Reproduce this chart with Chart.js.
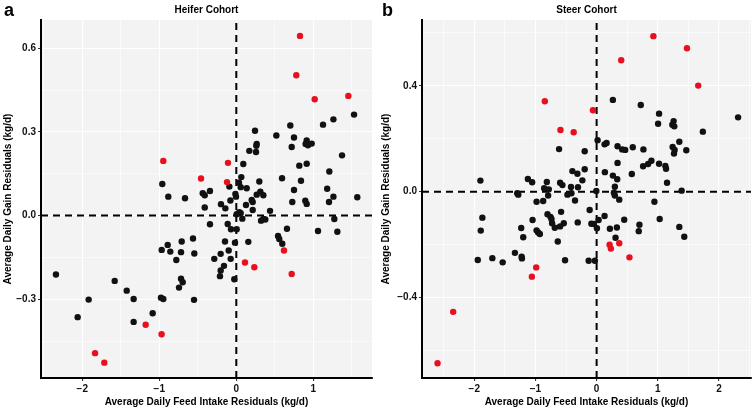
<!DOCTYPE html>
<html><head><meta charset="utf-8">
<script src="https://cdn.jsdelivr.net/npm/chart.js@4.4.1/dist/chart.umd.min.js"></script>
<style>
html,body{margin:0;padding:0;background:#fff;}
#wrap{position:relative;width:755px;height:409px;overflow:hidden;}
canvas{position:absolute;top:0;}
#ca{left:0;} #cb{left:378px;}
</style></head><body>
<div id="wrap"><canvas id="ca" width="378" height="409"></canvas><canvas id="cb" width="377" height="409"></canvas></div>
<script>
// ---------- Heifer cohort (panel a) ----------
const heiferBlackX = [1.529,1.261,1.126,0.701,0.243,0.52,0.749,0.719,0.265,0.26,0.169,0.256,0.914,0.9,0.93,0.979,1.373,0.091,0.818,0.914,1.208,0.065,0.035,-0.09,0.057,0.135,0.299,0.594,0.84,0.749,1.18,-0.342,-0.961,
 -0.883,-0.666,-0.436,-0.41,-0.41,-0.342,-0.562,-0.709,-0.891,-0.969,-0.857,-0.718,-0.545,-0.779,-2.342,-1.579,-0.718,-0.696,-0.744,-1.423,-1.917,-1.333,-0.978,-0.948,-0.549,-2.06,-1.086,-1.333,
 -0.199,-0.142,-0.077,-0.012,-0.004,0.126,0.2,0.213,0.213,0.265,0.312,0.351,0.438,0.005,0.039,0.057,0.078,0.321,0.351,0.377,-0.112,-0.069,0.005,0.727,0.896,0.914,1.261,1.204,1.571,1.273,0.658,1.061,1.312,0.542,0.558,0.597,0.156,-0.147,-0.017,-0.099,-0.203,-0.286,-0.073,-0.16,-0.203,-0.212,-0.026];
const heiferBlackY = [0.362,0.345,0.326,0.323,0.304,0.287,0.280,0.246,0.257,0.250,0.232,0.228,0.269,0.257,0.252,0.258,0.216,0.185,0.179,0.186,0.158,0.138,0.118,0.104,0.102,0.098,0.122,0.134,0.125,0.092,0.096,0.088,0.113,
 0.068,0.062,0.080,0.073,0.029,-0.031,-0.082,-0.093,-0.105,-0.123,-0.129,-0.131,-0.136,-0.159,-0.211,-0.234,-0.226,-0.239,-0.258,-0.269,-0.301,-0.299,-0.294,-0.299,-0.302,-0.364,-0.350,-0.381,
 0.041,0.026,0.054,0.078,0.068,0.038,0.056,0.049,0.020,0.075,0.086,0.073,0.017,0.005,0.012,0.009,-0.011,-0.018,-0.012,-0.014,-0.030,-0.049,-0.049,0.049,0.053,0.042,0.068,0.049,0.066,-0.012,-0.047,-0.055,-0.058,-0.073,-0.084,-0.101,-0.094,-0.093,-0.097,-0.125,-0.137,-0.155,-0.155,-0.180,-0.197,-0.217,-0.228];
const heiferRedX = [0.827,0.779,1.018,1.455,-0.108,-0.458,-0.121,-0.948,-1.177,-0.97,-1.834,-1.714,0.619,0.113,0.234,0.719];
const heiferRedY = [0.644,0.503,0.417,0.429,0.189,0.133,0.120,0.196,-0.391,-0.425,-0.493,-0.527,-0.125,-0.168,-0.185,-0.209];
const heiferXTicks = [-2,-1,0,1];
const heiferXMinor = [-2.5,-1.5,-0.5,0.5,1.5];
const heiferYTicks = [-0.3,0,0.3,0.6];
const heiferYMinor = [-0.45,-0.15,0.15,0.45];

// ---------- Steer cohort (panel b) ----------
const steerBlackX = [-0.614,-0.195,-0.396,-0.314,-0.195,-1.9,-1.124,-1.054,-0.814,-0.597,-0.559,-0.419,-0.305,-0.233,-0.858,-0.782,
 0.266,0.722,1.021,1.005,1.259,1.238,1.27,2.313,1.737,0.016,0.13,0.163,0.342,0.418,0.467,0.591,0.765,1.352,1.243,1.275,1.265,1.466,0.342,0.76,0.842,0.896,1.021,1.124,1.135,0.135,0.266,0.337,0.575,1.151,0.298,-0.005,1.39,
 -1.298,-1.281,-0.982,-0.874,-0.793,-0.477,-0.412,-0.353,-0.309,-0.581,-0.803,-0.754,-0.738,-0.728,-0.684,-0.598,-0.537,-1.047,-1.233,-1.2,-0.982,-0.956,-0.928,-0.635,-1.868,-1.894,-1.943,-1.705,-1.536,-1.336,-1.226,-1.221,-0.516,
 0.282,0.298,0.37,0.945,1.031,1.352,1.433,-0.114,0.13,0.033,-0.086,-0.044,0.005,0.217,0.331,0.451,0.309,0.7,0.689,-0.13,-0.028];
const steerBlackY = [0.161,0.153,0.078,0.068,0.085,0.042,0.048,0.036,0.037,0.034,0.025,0.018,0.017,0.043,0.013,0.009,
 0.347,0.328,0.295,0.257,0.267,0.253,0.247,0.281,0.227,0.195,0.179,0.184,0.172,0.160,0.158,0.168,0.160,0.189,0.169,0.158,0.144,0.157,0.109,0.096,0.105,0.117,0.106,0.097,0.087,0.074,0.061,0.047,0.067,0.034,0.019,0.003,0.004,
 -0.006,-0.011,-0.038,-0.035,-0.014,-0.011,-0.006,-0.033,-0.116,-0.076,-0.085,-0.095,-0.103,-0.119,-0.136,-0.131,-0.119,-0.107,-0.137,-0.172,-0.146,-0.154,-0.160,-0.188,-0.098,-0.147,-0.258,-0.251,-0.267,-0.231,-0.246,-0.252,-0.259,
 -0.004,-0.014,-0.030,-0.038,-0.103,-0.133,-0.170,-0.069,-0.092,-0.107,-0.121,-0.122,-0.138,-0.140,-0.135,-0.106,-0.174,-0.125,-0.149,-0.261,-0.261];
const steerRedX = [-0.847,-0.591,-0.375,0.928,1.477,0.402,1.661,-0.06,-0.988,-1.059,-2.345,-2.601,0.212,0.233,0.37,0.537];
const steerRedY = [0.342,0.233,0.225,0.588,0.542,0.497,0.401,0.308,-0.286,-0.321,-0.454,-0.648,-0.200,-0.215,-0.195,-0.248];
const steerXTicks = [-2,-1,0,1,2];
const steerXMinor = [-2.5,-1.5,-0.5,0.5,1.5,2.5];
const steerYTicks = [-0.4,0,0.4];
const steerYMinor = [-0.6,-0.2,0.2,0.6];

const FONT = "'Liberation Sans', Arial, Helvetica, sans-serif";
const BLACK = '#111111', RED = '#e8101e';
const xTitle = 'Average Daily Feed Intake Residuals (kg/d)';
const yTitle = 'Average Daily Gain Residuals (kg/d)';

function pts(xs, ys){ return xs.map((x,i)=>({x:x, y:ys[i]})); }
function fmt(v, dec){ const s = Math.abs(v).toFixed(dec); return (v < -1e-9 ? '\u2212' : '') + s; }
function isIn(arr, v){ return arr.some(a => Math.abs(a - v) < 1e-6); }

const decor = {
  id: 'decor',
  beforeDraw(chart, args, o){
    const {ctx, chartArea:a} = chart;
    ctx.save(); ctx.fillStyle = '#f3f3f3';
    ctx.fillRect(a.left, a.top, a.right - a.left, a.bottom - a.top); ctx.restore();
  },
  beforeDatasetsDraw(chart, args, o){
    const {ctx, chartArea:a, scales} = chart;
    const x0 = scales.x.getPixelForValue(0), y0 = scales.y.getPixelForValue(0);
    ctx.save();
    ctx.beginPath(); ctx.rect(a.left, a.top, a.right - a.left, a.bottom - a.top); ctx.clip();
    ctx.strokeStyle = '#000'; ctx.lineWidth = 2; ctx.setLineDash([7, 5]);
    ctx.beginPath(); ctx.moveTo(x0, a.bottom); ctx.lineTo(x0, a.top); ctx.stroke();
    ctx.beginPath(); ctx.moveTo(a.left, y0); ctx.lineTo(a.right, y0); ctx.stroke();
    ctx.restore();
  },
  afterDraw(chart, args, o){
    const {ctx, chartArea:a} = chart;
    ctx.save();
    ctx.fillStyle = '#000'; ctx.textBaseline = 'middle';
    ctx.font = 'bold 10px ' + FONT; ctx.textAlign = 'center';
    ctx.fillText(o.title, (a.left + a.right) / 2, 10.5);
    ctx.font = 'bold 18px ' + FONT; ctx.textAlign = 'left';
    ctx.fillText(o.letter, o.letterX, 11);
    ctx.restore();
  }
};

function makeChart(id, cfg){
  const allX = cfg.xMajor.concat(cfg.xMinor).sort((a,b)=>a-b);
  const allY = cfg.yMajor.concat(cfg.yMinor).sort((a,b)=>a-b);
  const gridOpt = (major) => ({
    color: (c) => '#ffffff',
    lineWidth: (c) => (c.tick && isIn(major, c.tick.value)) ? 1.1 : 0.6,
    tickColor: (c) => (c.tick && isIn(major, c.tick.value)) ? '#333333' : 'rgba(0,0,0,0)',
    tickLength: 3,
    drawTicks: true,
    z: 0
  });
  return new Chart(document.getElementById(id), {
    type: 'scatter',
    data: { datasets: [
      { label: 'red', data: pts(cfg.redX, cfg.redY), backgroundColor: RED, pointRadius: 3.2, pointBorderWidth: 0, order: 0 },
      { label: 'black', data: pts(cfg.blackX, cfg.blackY), backgroundColor: BLACK, pointRadius: 3.2, pointBorderWidth: 0, order: 1 }
    ]},
    options: {
      responsive: false, animation: false, devicePixelRatio: 1,
      layout: { padding: { top: 20, right: cfg.padRight, left: 0, bottom: 0 } },
      plugins: { legend: { display: false }, tooltip: { enabled: false },
        decor: { title: cfg.title, letter: cfg.letter, letterX: cfg.letterX } },
      scales: {
        x: {
          type: 'linear', min: cfg.xMin, max: cfg.xMax,
          afterBuildTicks: (s) => { s.ticks = allX.map(v => ({value: v})); },
          afterFit: (s) => { s.height = 31; },
          ticks: { autoSkip: false, maxRotation: 0, padding: 2, color: '#111',
            font: { family: FONT, size: 10, weight: 'bold' },
            callback: (v) => isIn(cfg.xMajor, v) ? fmt(v, 0) : '' },
          grid: gridOpt(cfg.xMajor),
          border: { display: true, color: '#000', width: 2 },
          title: { display: true, text: xTitle, color: '#000',
            font: { family: FONT, size: 10, weight: 'bold' }, padding: { top: 0, bottom: 1 } }
        },
        y: {
          type: 'linear', min: cfg.yMin, max: cfg.yMax,
          afterBuildTicks: (s) => { s.ticks = allY.map(v => ({value: v})); },
          afterFit: (s) => { s.width = cfg.yAxisW; },
          ticks: { autoSkip: false, padding: 2, color: '#111',
            font: { family: FONT, size: 10, weight: 'bold' },
            callback: (v) => isIn(cfg.yMajor, v) ? fmt(v, 1) : '' },
          grid: gridOpt(cfg.yMajor),
          border: { display: true, color: '#000', width: 2 },
          title: { display: true, text: yTitle, color: '#000',
            font: { family: FONT, size: 10, weight: 'bold' }, padding: { top: 2, bottom: 0 } }
        }
      }
    },
    plugins: [decor]
  });
}

makeChart('ca', {
  blackX: heiferBlackX, blackY: heiferBlackY, redX: heiferRedX, redY: heiferRedY,
  xMajor: heiferXTicks, xMinor: heiferXMinor, yMajor: heiferYTicks, yMinor: heiferYMinor,
  xMin: -2.536, xMax: 1.762, yMin: -0.582, yMax: 0.701,
  title: 'Heifer Cohort', letter: 'a', letterX: 4, padRight: 6, yAxisW: 41
});
makeChart('cb', {
  blackX: steerBlackX, blackY: steerBlackY, redX: steerRedX, redY: steerRedY,
  xMajor: steerXTicks, xMinor: steerXMinor, yMajor: steerYTicks, yMinor: steerYMinor,
  xMin: -2.855, xMax: 2.524, yMin: -0.704, yMax: 0.649,
  title: 'Steer Cohort', letter: 'b', letterX: 4, padRight: 3, yAxisW: 44
});
</script>
</body></html>
